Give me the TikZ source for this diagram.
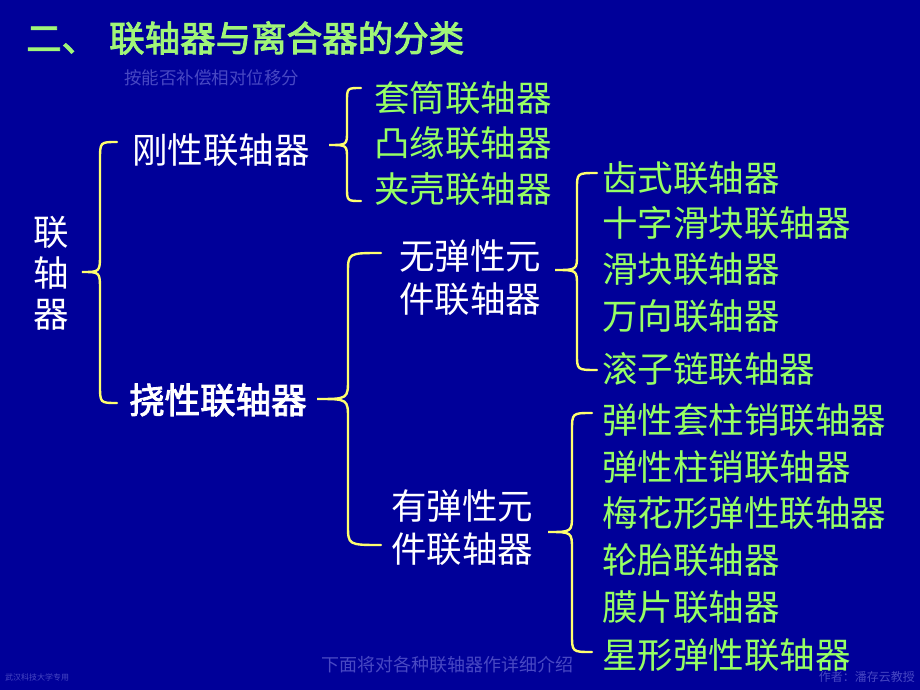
\documentclass[tikz,border=0pt]{standalone}
\usepackage{fontspec}
\setmainfont[AutoFakeBold=2.5]{Noto Sans CJK SC}
\definecolor{bgblue}{RGB}{0,0,153}
\definecolor{itemgreen}{RGB}{150,255,100}
\definecolor{titlegreen}{RGB}{160,245,120}
\definecolor{braceyellow}{RGB}{255,255,110}
\definecolor{dimblue}{RGB}{72,72,195}
\newcommand\ybrace[7]{%
  \draw[brace] (#1,#4) .. controls (#2,#4) .. (#2,#4+#7) -- (#2,#5-#7)
    .. controls (#2,#5) .. (#3,#5) .. controls (#2,#5) .. (#2,#5+#7)
    -- (#2,#6-#7) .. controls (#2,#6) .. (#1,#6);}
\begin{document}
\begin{tikzpicture}[x=1pt,y=-1pt,
  lbl/.style={anchor=west,inner sep=0pt,font=\fontsize{35.5}{38}\selectfont},
  grn/.style={lbl,text=itemgreen},
  wht/.style={lbl,text=white},
  brace/.style={draw=braceyellow,line width=2.4pt,line cap=round}]
\fill[bgblue] (0,0) rectangle (920,690);
\useasboundingbox (0,0) rectangle (920,690);
% title
\node[lbl,text=titlegreen,font=\fontsize{35.5}{38}\selectfont\bfseries] (title) at (26,38) {二、\hspace{12pt}联轴器与离合器的分类};
\node[anchor=west,inner sep=0pt,text=dimblue,font=\fontsize{17.5}{19}\selectfont] (basis) at (124,78) {按能否补偿相对位移分};
% root
\node[wht,anchor=center] (r1) at (51,232) {联};
\node[wht,anchor=center] (r2) at (51,273) {轴};
\node[wht,anchor=center] (r3) at (51,315) {器};
% level 1
\node[wht] (rigid) at (132,150) {刚性联轴器};
\node[wht,font=\fontsize{35.5}{38}\selectfont\bfseries] (flex) at (129,400) {挠性联轴器};
% rigid group
\node[grn] (g1) at (374,98) {套筒联轴器};
\node[grn] (g2) at (374,143) {凸缘联轴器};
\node[grn] (g3) at (374,189) {夹壳联轴器};
% level 2
\node[wht] (ne1) at (399,256) {无弹性元};
\node[wht] (ne2) at (399,299) {件联轴器};
\node[wht] (el1) at (391,506) {有弹性元};
\node[wht] (el2) at (391,549) {件联轴器};
% right column
\node[grn] (a1) at (602,178) {齿式联轴器};
\node[grn] (a2) at (602,223) {十字滑块联轴器};
\node[grn] (a3) at (602,269) {滑块联轴器};
\node[grn] (a4) at (602,316) {万向联轴器};
\node[grn] (a5) at (602,369) {滚子链联轴器};
\node[grn] (b1) at (602,420) {弹性套柱销联轴器};
\node[grn] (b2) at (602,467) {弹性柱销联轴器};
\node[grn] (b3) at (602,513) {梅花形弹性联轴器};
\node[grn] (b4) at (602,560) {轮胎联轴器};
\node[grn] (b5) at (602,607) {膜片联轴器};
\node[grn] (b6) at (602,655) {星形弹性联轴器};
% braces
\ybrace{117}{100}{82}{142}{272}{403}{18}
\ybrace{361}{347}{329}{88}{145}{201}{14}
\ybrace{381}{348}{317}{253}{399}{545}{20}
\ybrace{597}{577}{555}{173}{270}{370}{16}
\ybrace{592}{572}{548}{413}{532}{652}{18}
% footer
\node[anchor=west,inner sep=0pt,text=dimblue,font=\fontsize{18}{20}\selectfont] (foot) at (321,665) {下面将对各种联轴器作详细介绍};
\node[anchor=west,inner sep=0pt,text=dimblue,font=\fontsize{8}{9}\selectfont] (school) at (5,677) {武汉科技大学专用};
\node[anchor=east,inner sep=0pt,text=dimblue,font=\fontsize{12}{13}\selectfont] (author) at (915,677) {作者：潘存云教授};
\end{tikzpicture}
\end{document}
